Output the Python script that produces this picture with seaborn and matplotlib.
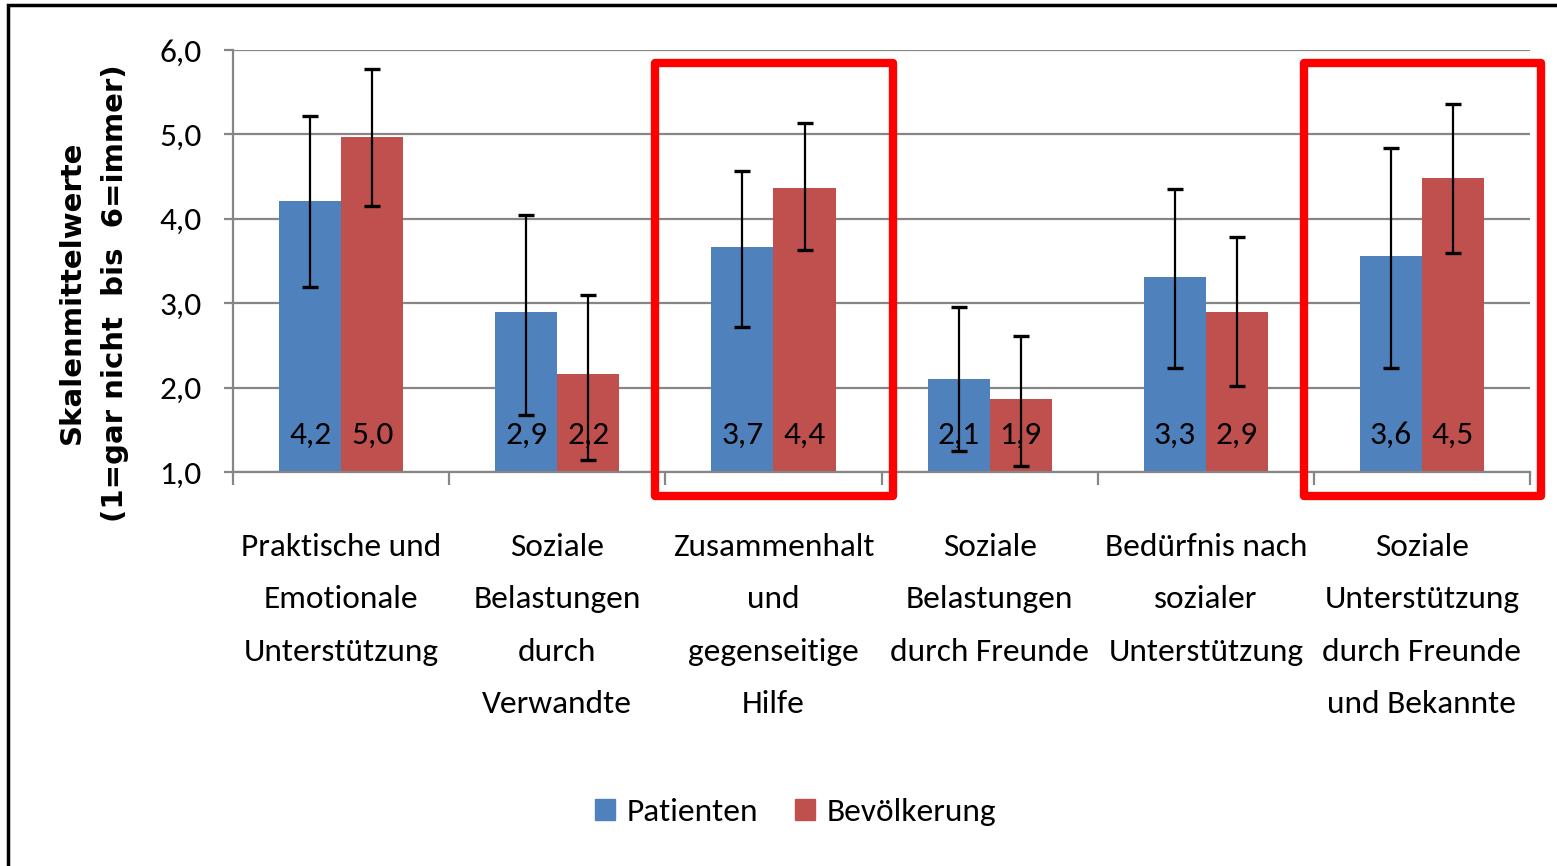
import pandas as pd
import matplotlib
matplotlib.use("Agg")
import matplotlib.pyplot as plt
from matplotlib.patches import Rectangle
import seaborn as sns

# values
categories = ["Praktische und\nEmotionale\nUnterstützung",
              "Soziale\nBelastungen\ndurch\nVerwandte",
              "Zusammenhalt\nund\ngegenseitige\nHilfe",
              "Soziale\nBelastungen\ndurch Freunde",
              "Bedürfnis nach\nsozialer\nUnterstützung",
              "Soziale\nUnterstützung\ndurch Freunde\nund Bekannte"]
groups = ["Patienten", "Bevölkerung"]
patienten = [4.21, 2.90, 3.66, 2.10, 3.31, 3.56]
bevoelkerung = [4.97, 2.16, 4.37, 1.86, 2.89, 4.48]
pat_low = [3.19, 1.67, 2.72, 1.25, 2.23, 2.23]
pat_high = [5.22, 4.05, 4.57, 2.95, 4.35, 4.84]
bev_low = [4.15, 1.14, 3.63, 1.07, 2.02, 3.59]
bev_high = [5.77, 3.10, 5.14, 2.61, 3.78, 5.36]
highlighted = [2, 5]
yticks = [1, 2, 3, 4, 5, 6]
ytick_labels = ["1,0", "2,0", "3,0", "4,0", "5,0", "6,0"]
ylabel = "Skalenmittelwerte\n(1=gar nicht  bis  6=immer)"

sns.set_style("white")
plt.rcParams['font.family'] = ['Carlito', 'Roboto Condensed', 'PT Sans Narrow',
                               'Liberation Sans', 'DejaVu Sans']
plt.rcParams['text.color'] = 'black'

df = pd.DataFrame({
    "Kategorie": categories * 2,
    "Gruppe": [groups[0]] * 6 + [groups[1]] * 6,
    "Wert": patienten + bevoelkerung,
})

fig = plt.figure(figsize=(15.57, 8.66), dpi=100)
ax = fig.add_axes([0.1497, 0.455, 0.8330, 0.4873])

sns.barplot(data=df, x="Kategorie", y="Wert", hue="Gruppe", order=categories,
            hue_order=groups, palette=["#4F81BD", "#C0504D"], saturation=1,
            width=0.574, errorbar=None, linewidth=0, ax=ax, legend=False, zorder=2)

grey = "#868686"
lows = [pat_low, bev_low]
highs = [pat_high, bev_high]
means = [patienten, bevoelkerung]
bar_conts = list(ax.containers)
for k, cont in enumerate(bar_conts):
    xs = [b.get_x() + b.get_width() / 2 for b in cont]
    m = means[k]
    lo = [m[i] - lows[k][i] for i in range(6)]
    hi = [highs[k][i] - m[i] for i in range(6)]
    ax.errorbar(xs, m, yerr=[lo, hi], fmt="none", ecolor="black",
                elinewidth=1.6, capsize=5.5, capthick=2.4, zorder=4)
    for x, v in zip(xs, m):
        ax.text(x, 1.44, f"{v:.1f}".replace(".", ","), ha="center", va="center",
                fontsize=24, color="black", zorder=5)

ax.set_ylim(1, 6)
ax.set_xlim(-0.5, 5.5)
ax.set_yticks(yticks)
ax.set_yticklabels(ytick_labels, fontsize=24)
ax.yaxis.grid(True, color=grey, linewidth=1.6, zorder=0)
ax.set_axisbelow(True)
ax.tick_params(axis="y", length=6.5, width=1.6, color=grey, pad=16,
               left=True, labelcolor="black")
ax.set_xticks(range(6))
ax.set_xticklabels(categories, fontsize=24, linespacing=2.06)
ax.set_xticks([i - 0.5 for i in range(7)], minor=True)
ax.tick_params(axis="x", which="major", length=0, pad=44, labelcolor="black")
ax.tick_params(axis="x", which="minor", length=9, width=1.6, color=grey, bottom=True)
ax.set_xlabel("")
ax.set_ylabel("")
for s in ["top", "right"]:
    ax.spines[s].set_visible(False)
for s in ["left", "bottom"]:
    ax.spines[s].set_color(grey)
    ax.spines[s].set_linewidth(1.6)

fig.text(0.060, 0.662, ylabel, rotation=90, ha="center", va="center",
         fontsize=21, fontweight="bold", family="DejaVu Sans", linespacing=1.7,
         multialignment="center")

# red boxes around highlighted groups
for i in highlighted:
    ax.add_patch(Rectangle((i - 0.548, 0.716), 1.10, 5.13, fill=False,
                           edgecolor="#FF0000", linewidth=6, joinstyle="round",
                           clip_on=False, zorder=6))

# legend
handles = [Rectangle((0, 0), 1, 1, color=c) for c in ["#4F81BD", "#C0504D"]]
fig.legend(handles, groups, loc="center", bbox_to_anchor=(0.511, 0.062), ncol=2,
           frameon=False, fontsize=24, handlelength=0.6, handleheight=0.6,
           handletextpad=0.36, columnspacing=1.1)

# outer frame
fig.add_artist(Rectangle((0.0052, -0.1), 1.1, 1.0942, transform=fig.transFigure,
                         fill=False, edgecolor="black", linewidth=2.5))

fig.savefig("out.png", dpi=100)
